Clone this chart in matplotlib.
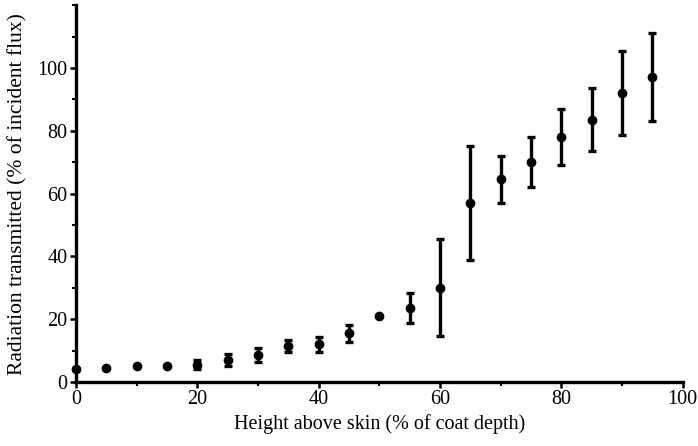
import numpy as np
import matplotlib
matplotlib.use('Agg')
import matplotlib.pyplot as plt
from matplotlib.ticker import MultipleLocator

# height above skin (% of coat depth)
height = [0, 5, 10, 15, 20, 25, 30, 35, 40, 45, 50, 55, 60, 65, 70, 75, 80, 85, 90, 95]
# radiation transmitted (% of incident flux)
transmitted = [4, 4.5, 5, 5, 5.5, 7, 8.5, 11.5, 12, 15.5, 21, 23.5, 30, 57, 64.5, 70, 78, 83.5, 92, 97]
err = [0, 0, 0, 0, 1.5, 2, 2.2, 2, 2.3, 2.7, 0, 4.7, 15.5, 18, 7.6, 8, 9, 10, 13.5, 14]

plt.rcParams['font.family'] = ['Liberation Serif', 'DejaVu Serif']

fig = plt.figure(figsize=(6.98, 4.46), dpi=100)
ax = fig.add_axes([0.109, 0.1435, 0.869, 0.845])

ax.errorbar(height, transmitted, yerr=err, fmt='o', color='black', ms=6,
            elinewidth=2.4, capsize=3.2, capthick=2.4, clip_on=False, zorder=3)

ax.set_xlim(0, 100)
ax.set_ylim(0, 120)
ax.xaxis.set_major_locator(MultipleLocator(20))
ax.xaxis.set_minor_locator(MultipleLocator(10))
ax.yaxis.set_major_locator(MultipleLocator(20))
ax.yaxis.set_minor_locator(MultipleLocator(10))
ax.set_yticks([0, 20, 40, 60, 80, 100])

for s in ['top', 'right']:
    ax.spines[s].set_visible(False)
for s in ['left', 'bottom']:
    ax.spines[s].set_linewidth(2.4)

ax.tick_params(which='major', length=4, width=1.8, labelsize=14.5, pad=2)
ax.tick_params(which='minor', length=3, width=1.5)

ax.set_xlabel('Height above skin (% of coat depth)', fontsize=14.5, labelpad=3.5)
ax.set_ylabel('Radiation transmitted (% of incident flux)', fontsize=15.5, labelpad=7.5)

fig.savefig('out.png', dpi=100)
